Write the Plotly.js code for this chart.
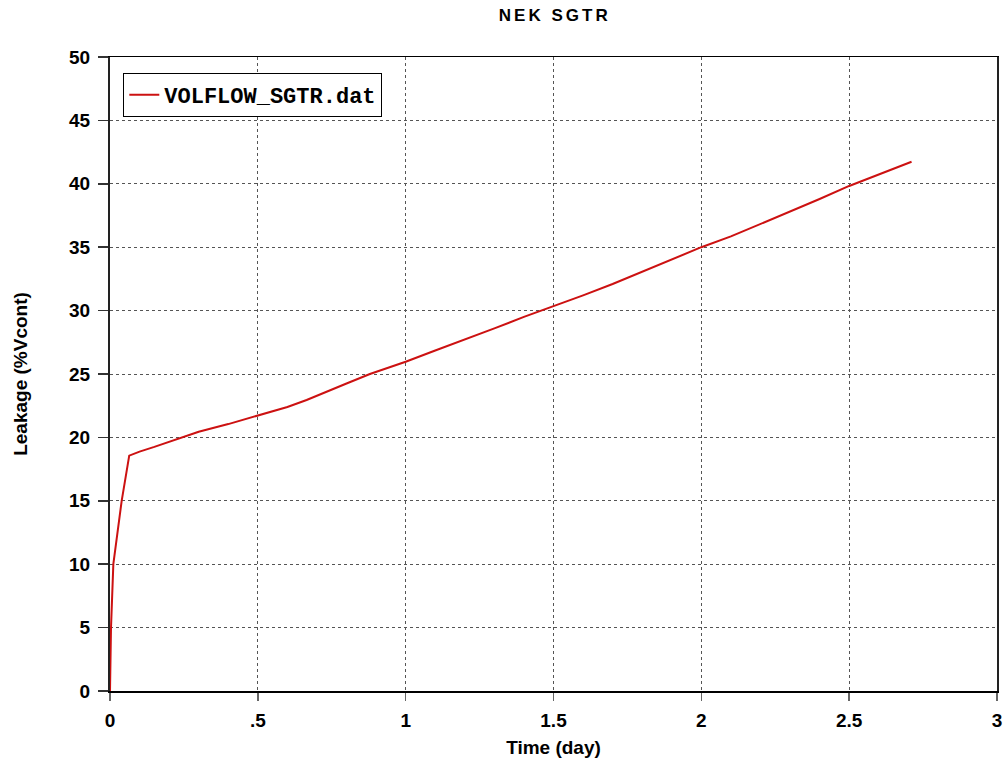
<!DOCTYPE html>
<html>
<head>
<meta charset="utf-8">
<script src="https://cdn.plot.ly/plotly-3.0.1.min.js"></script>
<style>
body{margin:0;background:#fff;}
#chart{width:1005px;height:764px;}
.gtitle{letter-spacing:3px;}
</style>
</head>
<body>
<div id="chart"></div>
<script>
var seriesName = "VOLFLOW_SGTR.dat";
var timeDay = [0, 0.0034, 0.0113, 0.0225, 0.0395, 0.065, 0.1, 0.15, 0.2, 0.2425, 0.3, 0.4, 0.5, 0.6, 0.665, 0.7, 0.744, 0.8, 0.879, 0.9, 1.0, 1.1, 1.2, 1.285, 1.3, 1.4, 1.5, 1.522, 1.6, 1.7, 1.8, 1.9, 2.0, 2.1, 2.232, 2.266, 2.3, 2.4, 2.5, 2.6, 2.711];
var leakage = [0, 5, 10, 12.17, 15, 18.56, 18.88, 19.25, 19.65, 20.0, 20.45, 21.05, 21.7, 22.4, 22.95, 23.3, 23.7, 24.25, 25.0, 25.17, 25.97, 26.85, 27.7, 28.47, 28.6, 29.5, 30.35, 30.5, 31.2, 32.1, 33.05, 34.0, 35.0, 35.85, 37.15, 37.46, 37.8, 38.8, 39.83, 40.75, 41.74];
var xTickVals = [0, 0.5, 1, 1.5, 2, 2.5, 3];
var xTickText = ["0", ".5", "1", "1.5", "2", "2.5", "3"];
var yTickVals = [0, 5, 10, 15, 20, 25, 30, 35, 40, 45, 50];

var fontFam = "'Liberation Sans Narrow', 'Arial Narrow', 'Liberation Sans', Arial, sans-serif";

var trace = {
  x: timeDay, y: leakage, type: 'scatter', mode: 'lines', name: seriesName,
  line: {color: '#cc1111', width: 2}
};

var layout = {
  width: 1005, height: 764,
  margin: {l: 110, r: 8, t: 57, b: 73},
  paper_bgcolor: '#fff', plot_bgcolor: '#fff',
  title: {text: 'NEK SGTR', x: 0.552, xanchor: 'center', y: 0.988, yanchor: 'top',
          font: {family: fontFam, size: 17, color: '#000', weight: 'bold'}},
  showlegend: true,
  legend: {x: 0.015, y: 0.975, xanchor: 'left', yanchor: 'top', bgcolor: '#fff',
           bordercolor: '#000', borderwidth: 1,
           font: {family: "'Liberation Mono', 'Courier New', monospace", size: 22, color: '#000', weight: 'bold'},
           itemwidth: 30, tracegroupgap: 0},
  xaxis: {
    range: [0, 3], tickvals: xTickVals, ticktext: xTickText,
    showgrid: true, gridcolor: '#555', griddash: 'dot', gridwidth: 1,
    showline: true, linecolor: '#000', linewidth: 1.5, mirror: true,
    ticks: 'outside', ticklen: 8, tickcolor: '#666', tickwidth: 1.5,
    ticklabelstandoff: 4,
    zeroline: false,
    tickfont: {family: fontFam, size: 19, color: '#000', weight: 'bold'},
    title: {text: 'Time (day)', standoff: 10, font: {family: fontFam, size: 19, color: '#000', weight: 'bold'}}
  },
  yaxis: {
    range: [0, 50], tickvals: yTickVals,
    showgrid: true, gridcolor: '#555', griddash: 'dot', gridwidth: 1,
    showline: true, linecolor: '#222', linewidth: 2, mirror: true,
    ticks: 'outside', ticklen: 10, tickcolor: '#333', tickwidth: 1.5,
    ticklabelstandoff: 4,
    zeroline: false,
    tickfont: {family: fontFam, size: 19, color: '#000', weight: 'bold'},
    title: {text: 'Leakage (%Vcont)', standoff: 36, font: {family: fontFam, size: 19, color: '#000', weight: 'bold'}}
  }
};

Plotly.newPlot('chart', [trace], layout, {displayModeBar: false, staticPlot: true});
</script>
</body>
</html>
